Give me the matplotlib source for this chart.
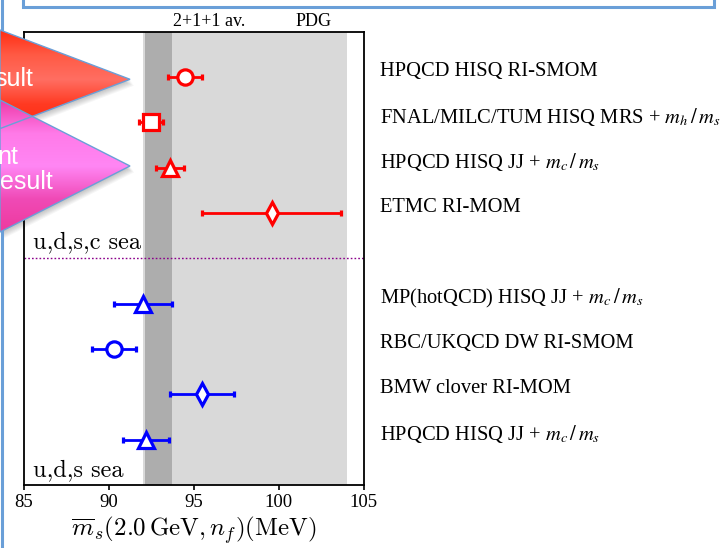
import matplotlib
matplotlib.use("Agg")
import matplotlib.pyplot as plt
import numpy as np
from matplotlib.patches import Polygon
from matplotlib.colors import LinearSegmentedColormap

# ---------------------------------------------------------------------------
# Data
# ---------------------------------------------------------------------------
LABELS = [
    "HPQCD HISQ RI-SMOM",
    r"FNAL/MILC/TUM HISQ MRS + $m_h\,/\,m_s$",
    r"HPQCD HISQ JJ + $m_c\,/\,m_s$",
    "ETMC RI-MOM",
    r"MP(hotQCD) HISQ JJ + $m_c\,/\,m_s$",
    "RBC/UKQCD DW RI-SMOM",
    "BMW clover RI-MOM",
    r"HPQCD HISQ JJ + $m_c\,/\,m_s$",
]
MS_VALUES = [94.5, 92.5, 93.6, 99.6, 92.0, 90.3, 95.5, 92.2]
MS_ERRORS = [1.0, 0.7, 0.8, 4.1, 1.7, 1.3, 1.9, 1.35]
ROWS = [0, 1, 2, 3, 5, 6, 7, 8]
MARKERS = ["o", "s", "^", "d", "^", "o", "d", "^"]
COLORS = ["#ff0000"] * 4 + ["#0000ff"] * 4

PDG_BAND = (92.0, 104.0)
AV_BAND = (92.1, 93.7)
XTICKS = [85, 90, 95, 100, 105]

W, H = 723, 548
DPI = 100

fig = plt.figure(figsize=(W / DPI, H / DPI), dpi=DPI)
fig.patch.set_facecolor("white")

# axes box in pixels: left 24, right 363.5, top 31.7, bottom 485
ax = fig.add_axes([24 / W, (H - 485) / H, 339.5 / W, 453.3 / H])
ax.set_xlim(85, 105)
ax.set_ylim(9, -1)

ax.axvspan(*PDG_BAND, color="#d9d9d9", lw=0, zorder=0)
ax.axvspan(*AV_BAND, color="#adadad", lw=0, zorder=1)
ax.axhline(4, color="#8b008b", lw=1.0, ls=(0, (1.2, 1.5)), zorder=2)

for x, e, y, m, c in zip(MS_VALUES, MS_ERRORS, ROWS, MARKERS, COLORS):
    ax.errorbar(x, y, xerr=e, fmt=m, color=c, ecolor=c, elinewidth=2.0,
                capsize=2.0, capthick=3.0, ms=11, mfc="white", mec=c,
                mew=2.3, zorder=5)

for lab, y in zip(LABELS, ROWS):
    ax.text(1.0486, y - 0.12, lab, transform=ax.get_yaxis_transform(),
            ha="left", va="center", fontsize=14.8,
            family="Liberation Serif", math_fontfamily="stix", clip_on=False)

ax.text(85.53, 3.77, "u,d,s,c sea", family="cmr10", fontsize=17.5,
        va="baseline", ha="left", zorder=6)
ax.text(85.53, 8.81, "u,d,s sea", family="cmr10", fontsize=17.5,
        va="baseline", ha="left", zorder=6)

ax.text(0.545, 1.0126, "2+1+1 av.", transform=ax.transAxes, ha="center",
        va="baseline", fontsize=13, family="Liberation Serif")
ax.text(0.854, 1.0126, "PDG", transform=ax.transAxes, ha="center",
        va="baseline", fontsize=13, family="Liberation Serif")

ax.set_xticks(XTICKS)
ax.set_yticks([])
ax.tick_params(axis="x", direction="out", length=3.8, width=1.2, pad=3,
               labelsize=13.5)
for t in ax.get_xticklabels():
    t.set_family("Liberation Serif")
for s in ax.spines.values():
    s.set_linewidth(1.3)
ax.set_xlabel(r"$\overline{m}_s(2.0\,\mathrm{GeV},n_f)(\mathrm{MeV})$",
              fontsize=18, math_fontfamily="cm", labelpad=2)

# ---------------------------------------------------------------------------
# Slide decorations (pixel coordinates)
# ---------------------------------------------------------------------------
ov = fig.add_axes([0, 0, 1, 1], zorder=10)
ov.axis("off")
BLUE = "#6a9fd8"
ov.plot([23, 23, 714, 714], [0, 7, 7, 0], color=BLUE, lw=2.2,
        solid_joinstyle="miter")
ov.plot([2, 2], [0, H], color=BLUE, lw=2.2)


def callout(pts, colors, texts):
    # soft drop shadow
    for k in range(1, 8):
        sh = Polygon(np.array(pts) + [k * 0.6, k * 0.9], closed=True,
                     fc="#000000", alpha=0.035, ec="none", zorder=1)
        ov.add_patch(sh)
    poly = Polygon(pts, closed=True, fc="none", ec=BLUE, lw=1.0, zorder=3)
    ov.add_patch(poly)
    ys = [p[1] for p in pts]
    cmap = LinearSegmentedColormap.from_list("g", colors)
    grad = np.linspace(0, 1, 256).reshape(-1, 1)
    im = ov.imshow(grad, cmap=cmap, aspect="auto",
                   extent=(0, max(p[0] for p in pts), max(ys), min(ys)),
                   zorder=2)
    im.set_clip_path(poly)
    for (tx, ty, s) in texts:
        ov.text(tx, ty, s, color="white", fontsize=18, ha="right",
                va="center", family="Liberation Sans", zorder=4)


callout([(0, 30), (130, 79.3), (0, 128.6)],
        ["#ff2c12", "#ff5a44", "#ff6e62", "#ff3a22", "#ff2a10"],
        [(33, 79, "sult")])
callout([(0, 100), (130, 166), (0, 232)],
        ["#ee3aa8", "#ff7ae8", "#ff86f4", "#f04ab6", "#ee3a9e"],
        [(18, 157, "nt"), (53, 182, "esult")])

ov.set_xlim(0, W)
ov.set_ylim(H, 0)

fig.savefig("out.png", dpi=DPI)
